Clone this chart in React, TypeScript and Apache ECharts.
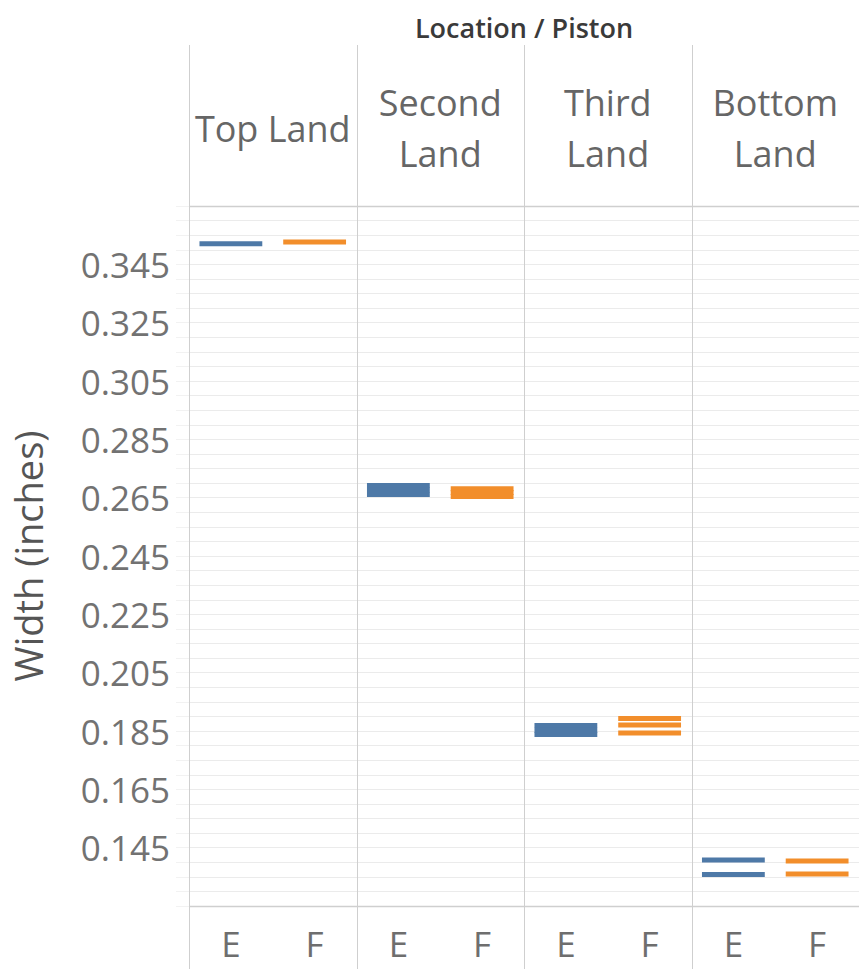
import React, { useEffect, useRef } from "react";
import * as echarts from "echarts";

const locations = ["Top Land", "Second\nLand", "Third\nLand", "Bottom\nLand"];
const pistons = ["E", "F"];
const widthE: number[][] = [
  [0.3521],
  [0.2692, 0.2676, 0.2661],
  [0.1869, 0.1853, 0.1838],
  [0.1408, 0.1358],
];
const widthF: number[][] = [
  [0.3527],
  [0.2681, 0.2668, 0.2654],
  [0.1893, 0.1871, 0.1843],
  [0.1404, 0.136],
];
const yMin = 0.125;
const yMax = 0.365;
const yInterval = 0.02;
const colors = ["#4e79a7", "#f28e2b"];

const W = 859;
const H = 969;
const gridLeft = 189;
const gridRightEdge = 859;
const gridTop = 206;
const gridBottomEdge = 906;
const FONT = "'Open Sans', 'Noto Sans', sans-serif";

export default function App() {
  const ref = useRef<HTMLDivElement>(null);
  useEffect(() => {
    document.body.style.margin = "0";
    if (!ref.current) return;
    const chart = echarts.init(ref.current, undefined, { renderer: "svg" });

    const xCats: string[] = [];
    locations.forEach(() => pistons.forEach((p) => xCats.push(p)));
    const data: number[][] = [];
    locations.forEach((_, li) => {
      widthE[li].forEach((v) => data.push([li * 2, v, 0]));
      widthF[li].forEach((v) => data.push([li * 2 + 1, v, 1]));
    });

    const panelW = (gridRightEdge - gridLeft) / locations.length;
    const graphics: any[] = [];
    for (let i = 0; i < locations.length; i++) {
      const x = Math.round(gridLeft + i * panelW) + 0.5;
      graphics.push({
        type: "line",
        shape: { x1: x, y1: 45, x2: x, y2: H },
        style: { stroke: "#cfcfcf", lineWidth: 1 },
        silent: true,
        z: 10,
      });
    }
    graphics.push({
      type: "line",
      shape: { x1: gridLeft, y1: gridTop + 0.5, x2: W, y2: gridTop + 0.5 },
      style: { stroke: "#cfcfcf", lineWidth: 1.5 },
      z: 10,
    });
    graphics.push({
      type: "line",
      shape: { x1: gridLeft, y1: gridBottomEdge + 0.5, x2: W, y2: gridBottomEdge + 0.5 },
      style: { stroke: "#cfcfcf", lineWidth: 1.5 },
      z: 10,
    });
    locations.forEach((name, i) => {
      graphics.push({
        type: "text",
        x: gridLeft + (i + 0.5) * panelW,
        y: 128,
        style: {
          text: name,
          fontSize: 36,
          fontFamily: FONT,
          fill: "#666666",
          align: "center",
          verticalAlign: "middle",
          lineHeight: 51,
        },
      });
    });
    graphics.push({
      type: "text",
      x: (gridLeft + gridRightEdge) / 2,
      y: 27,
      style: {
        text: "Location / Piston",
        fontSize: 27,
        fontWeight: 600,
        fontFamily: FONT,
        fill: "#3a3a3a",
        align: "center",
        verticalAlign: "middle",
      },
    });

    chart.setOption({
      animation: false,
      backgroundColor: "#ffffff",
      grid: {
        left: gridLeft,
        right: W - gridRightEdge,
        top: gridTop,
        bottom: H - gridBottomEdge,
        containLabel: false,
        outerBoundsMode: "none",
      },
      xAxis: {
        type: "category",
        data: xCats,
        axisLine: { show: false },
        axisTick: { show: false },
        splitLine: { show: false },
        axisLabel: {
          fontSize: 35,
          fontFamily: FONT,
          color: "#6e6e6e",
          margin: 20,
        },
      },
      yAxis: {
        type: "value",
        min: yMin,
        max: yMax,
        interval: yInterval,
        name: "Width (inches)",
        nameLocation: "middle",
        nameGap: 142,
        nameTextStyle: { fontSize: 38, fontFamily: FONT, color: "#555555" },
        axisLine: { show: false },
        axisTick: { show: true, length: 13, lineStyle: { color: "#f2f2f2" } },
        minorTick: { show: true, splitNumber: 4, length: 13, lineStyle: { color: "#f2f2f2" } },
        splitLine: { show: true, lineStyle: { color: "#ebebeb", width: 1 } },
        minorSplitLine: { show: true, lineStyle: { color: "#ebebeb", width: 1 } },
        axisLabel: {
          showMinLabel: false,
          showMaxLabel: false,
          fontSize: 35,
          fontFamily: FONT,
          color: "#727272",
          margin: 19,
          formatter: (v: number) => v.toFixed(3),
        },
      },
      graphic: graphics,
      series: [
        {
          type: "custom",
          data,
          encode: { x: 0, y: 1 },
          renderItem: (params: any, api: any) => {
            const c = api.coord([api.value(0), api.value(1)]);
            const bw = api.size([1, 0])[0] * 0.75;
            return {
              type: "rect",
              shape: { x: c[0] - bw / 2, y: c[1] - 2.5, width: bw, height: 5 },
              style: { fill: colors[api.value(2)] },
            };
          },
        },
      ],
    });
    return () => chart.dispose();
  }, []);
  return <div ref={ref} style={{ width: W, height: H }} />;
}
